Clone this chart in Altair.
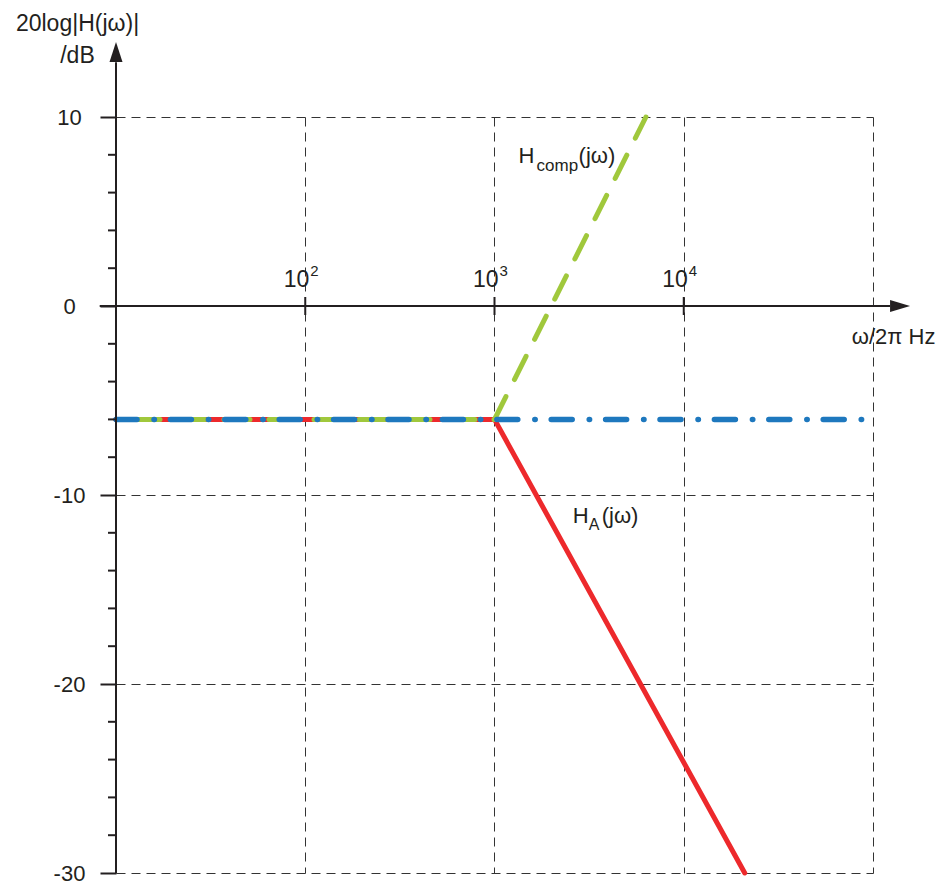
import altair as alt
import pandas as pd

# ---------------- data ----------------
FREQ_DOMAIN = [10, 100000]
DB_DOMAIN = [-30, 10]

ha_freq = [10, 1000, 21000]
ha_db = [-6, -6, -30]

hcomp_freq = [10, 1000, 6310]
hcomp_db = [-6, -6, 10]

hsum_freq = [10, 100000]
hsum_db = [-6, -6]

x_grid = [10, 100, 1000, 10000, 100000]
y_major = [10, 0, -10, -20, -30]
y_minor = [8, 6, 4, 2, -2, -4, -6, -8, -12, -14, -16, -18, -22, -24, -26, -28]

x_tick_vals = [100, 1000, 10000]
x_tick_base = ["10", "10", "10"]
x_tick_exp = ["2", "3", "4"]

# axis-line extents and arrow heads (data space)
x_axis_freq = [8.2, 123000]
x_axis_db = [0, 0]
y_axis_freq = [10, 10]
y_axis_db = [-30, 12.9]
x_arrow = {"f": [139000], "db": [0]}
y_arrow = {"f": [10], "db": [13.44]}

# annotation anchors
hcomp_anchor = {"f": [1340], "db": [7.57]}
ha_anchor = {"f": [2590], "db": [-11.48]}

FONT = "Liberation Sans"
INK = "#231F20"
RED = "#ED292C"
GREEN = "#A0C83C"
BLUE = "#1E78BE"

xaxis = alt.Axis(
    values=x_grid, grid=True, gridDash=[9, 6], gridColor="#333333", gridWidth=1,
    labels=False, ticks=False, domain=False,
    title="ω/2π Hz", titleFont=FONT, titleFontSize=22, titleFontWeight="normal",
    titleColor=INK, titleX=819, titleY=-530, titleAlign="right",
    titleBaseline="alphabetic", titleAngle=0,
)
yaxis = alt.Axis(
    values=y_major, grid=True, gridDash=[9, 6], gridColor="#333333", gridWidth=1,
    domain=False, ticks=True, tickSize=16, tickWidth=2, tickColor=INK,
    labelAlign="center", labelPadding=31, labelFont=FONT, labelFontSize=22,
    labelColor=INK, labelBaseline="middle", labelExpr="'' + datum.value",
    title=["20log|H(jω)|", "/dB"], titleAngle=0, titleX=-39, titleY=-87,
    titleAlign="center", titleBaseline="alphabetic", titleFont=FONT,
    titleFontSize=23, titleFontWeight="normal", titleColor=INK, titleLineHeight=32,
)

X = alt.X("f:Q", scale=alt.Scale(type="log", domain=FREQ_DOMAIN), axis=xaxis)
Y = alt.Y("db:Q", scale=alt.Scale(domain=DB_DOMAIN, nice=False, zero=False), axis=yaxis)


def df(f, db):
    return pd.DataFrame({"f": f, "db": db})


# axis lines
x_axis_line = alt.Chart(df(x_axis_freq, x_axis_db)).mark_line(
    color=INK, strokeWidth=2).encode(x=X, y=Y)
y_axis_line = alt.Chart(df(y_axis_freq, y_axis_db)).mark_line(
    color=INK, strokeWidth=2).encode(x=X, y=Y)

x_arrow_mark = alt.Chart(pd.DataFrame(x_arrow)).mark_point(
    shape="M1,0L-1,-0.6L-1,0.6Z", filled=True, size=400, fill=INK,
    strokeWidth=0, opacity=1).encode(x=X, y=Y)
y_arrow_mark = alt.Chart(pd.DataFrame(y_arrow)).mark_point(
    shape="M0,-1L0.65,1L-0.65,1Z", filled=True, size=400, fill=INK,
    strokeWidth=0, opacity=1).encode(x=X, y=Y)

# minor y ticks
minor = alt.Chart(df([10] * len(y_minor), y_minor)).mark_tick(
    orient="horizontal", size=8, thickness=2, xOffset=-4, color=INK, opacity=1
).encode(x=X, y=Y)

# x ticks crossing the axis
xt = alt.Chart(df(x_tick_vals, [0] * len(x_tick_vals))).mark_tick(
    orient="vertical", size=18, thickness=2, color=INK, opacity=1
).encode(x=X, y=Y)

xlab_df = pd.DataFrame({"f": x_tick_vals, "db": [0] * len(x_tick_vals),
                        "base": x_tick_base, "exp": x_tick_exp})
xlab_base = alt.Chart(xlab_df).mark_text(
    font=FONT, fontSize=23, color=INK, align="right", baseline="alphabetic",
    dx=4, dy=-19).encode(x=X, y=Y, text="base:N")
xlab_exp = alt.Chart(xlab_df).mark_text(
    font=FONT, fontSize=15, color=INK, align="left", baseline="alphabetic",
    dx=5, dy=-30).encode(x=X, y=Y, text="exp:N")

# curves
red = alt.Chart(df(ha_freq, ha_db)).mark_line(
    color=RED, strokeWidth=5, strokeCap="round", strokeJoin="round").encode(x=X, y=Y)
green = alt.Chart(df(hcomp_freq, hcomp_db)).mark_line(
    color=GREEN, strokeWidth=5, strokeCap="round", strokeDash=[26, 19],
    strokeDashOffset=27).encode(x=X, y=Y)
blue = alt.Chart(df(hsum_freq, hsum_db)).mark_line(
    color=BLUE, strokeWidth=5.5, strokeCap="round",
    strokeDash=[21, 17, 0.4, 16]).encode(x=X, y=Y)


def piece(anchor, text, size, dx, dy):
    d = pd.DataFrame(anchor)
    d["t"] = text
    return alt.Chart(d).mark_text(
        font=FONT, fontSize=size, color=INK, align="left", baseline="alphabetic",
        dx=dx, dy=dy).encode(x=X, y=Y, text="t:N")


labels = [
    piece(hcomp_anchor, "H", 22, 0, 0),
    piece(hcomp_anchor, "comp", 17, 18, 8),
    piece(hcomp_anchor, "(jω)", 22, 60, 0),
    piece(ha_anchor, "H", 22, 0, 0),
    piece(ha_anchor, "A", 16, 16, 7),
    piece(ha_anchor, "(jω)", 22, 29, 0),
]

chart = alt.layer(
    red, green, blue,
    x_axis_line, y_axis_line, x_arrow_mark, y_arrow_mark, minor, xt,
    xlab_base, xlab_exp, *labels
).properties(
    width=757, height=756,
    autosize=alt.AutoSizeParams(type="none"),
    padding={"left": 108, "top": 109, "right": 63, "bottom": 14},
    background="white",
).configure_view(stroke=None)

chart.save("out.html", embed_options={"renderer": "svg", "actions": False})
